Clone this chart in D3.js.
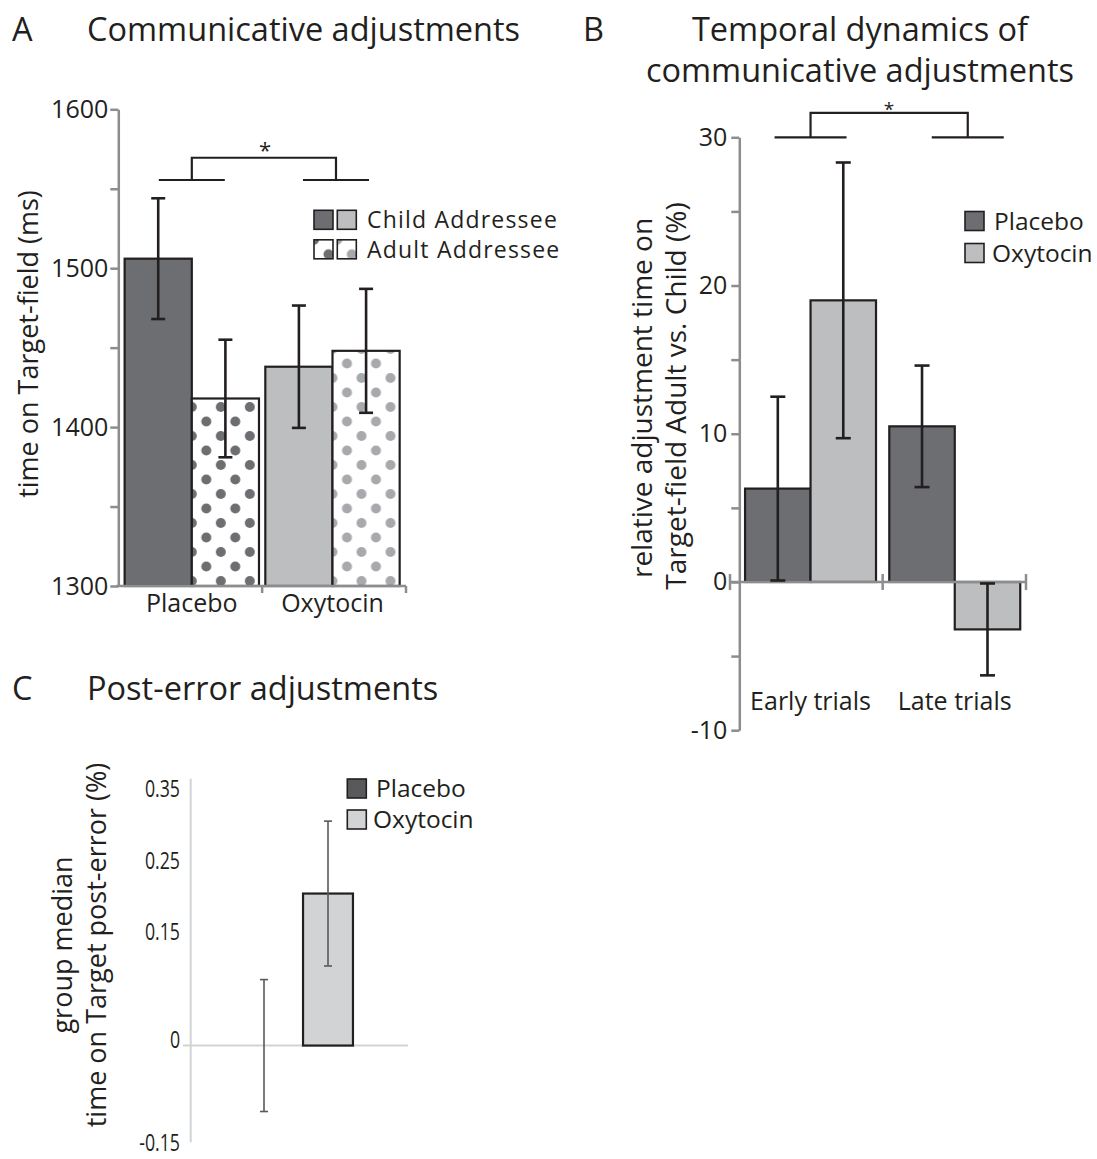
<!DOCTYPE html>
<html>
<head>
<meta charset="utf-8">
<script src="https://cdn.jsdelivr.net/npm/d3@7"></script>
<style>
body { margin: 0; background: #fff; }
svg text { font-family: "Open Sans", sans-serif; fill: #231f20; }
</style>
</head>
<body>
<svg width="1097" height="1159"></svg>
<script>
// ---- data ----
// A: time on target-field (ms), by group and addressee
var groupsA = ['Placebo', 'Oxytocin'];
var addressees = ['Child', 'Adult'];
var meanPlaceboA = [1506, 1418];   // child, adult
var meanOxytocinA = [1438, 1448];
var semPlaceboA = [38, 37];
var semOxytocinA = [38.5, 39];
var ticksA = [1300, 1400, 1500, 1600];

// B: relative adjustment time (%), by trial phase and group
var phasesB = ['Early trials', 'Late trials'];
var drugs = ['Placebo', 'Oxytocin'];
var meanEarlyB = [6.3, 19.0];     // placebo, oxytocin
var meanLateB = [10.5, -3.2];
var semEarlyB = [6.2, 9.3];
var semLateB = [4.1, 3.1];
var ticksB = [-10, 0, 10, 20, 30];

// C: group median post-error time (%)
var meanC = [0.0, 0.212];         // placebo, oxytocin
var semC = [0.092, 0.101];
var ticksC = [-0.15, 0, 0.15, 0.25, 0.35];
var tickLabelsC = ['-0.15', '0', '0.15', '0.25', '0.35'];

var dark = '#6d6e71', light = '#bcbec0', dotLight = '#a7a9ac';
var axisGrey = '#8d8d8f', ink = '#231f20';

var svg = d3.select('svg');
var defs = svg.append('defs');

function dotPattern(id, color, ox, oy)
{
  var p = defs.append('pattern').attr('id', id)
    .attr('patternUnits', 'userSpaceOnUse')
    .attr('width', 29).attr('height', 29)
    .attr('patternTransform', 'translate(' + ox + ',' + oy + ')');
  p.append('rect').attr('width', 29).attr('height', 29).attr('fill', '#fff');
  [[0, 0], [29, 0], [0, 29], [29, 29], [14.5, 14.5]].forEach(function(c) {
    p.append('circle').attr('cx', c[0]).attr('cy', c[1]).attr('r', 5).attr('fill', color);
  });
}

function styleAxis(g, col, w)
{
  g.select('.domain').attr('stroke', col).attr('stroke-width', w);
  g.selectAll('.tick line').attr('stroke', col).attr('stroke-width', w);
  g.selectAll('.tick text').attr('fill', ink);
}

function errBar(g, x, y1, y2, cap, col, w)
{
  g.append('line').attr('x1', x).attr('x2', x).attr('y1', y1).attr('y2', y2)
    .attr('stroke', col).attr('stroke-width', w);
  [y1, y2].forEach(function(y) {
    g.append('line').attr('x1', x - cap / 2).attr('x2', x + cap / 2).attr('y1', y).attr('y2', y)
      .attr('stroke', col).attr('stroke-width', w);
  });
}

function bracket(g, xa, xb, half, yLow, yHigh)
{
  [xa, xb].forEach(function(x) {
    g.append('line').attr('x1', x - half).attr('x2', x + half).attr('y1', yLow).attr('y2', yLow)
      .attr('stroke', ink).attr('stroke-width', 2.2);
  });
  g.append('path').attr('d', 'M' + xa + ',' + yLow + 'V' + yHigh + 'H' + xb + 'V' + yLow)
    .attr('fill', 'none').attr('stroke', ink).attr('stroke-width', 2.2);
}

// titles
function title(x, y, t, anchor)
{
  svg.append('text').attr('x', x).attr('y', y).attr('text-anchor', anchor || 'start')
    .style('font-size', '32.5px').text(t);
}
title(12, 41, 'A');
title(87, 41, 'Communicative adjustments');
title(583, 41, 'B');
title(860, 41, 'Temporal dynamics of', 'middle');
title(860, 82, 'communicative adjustments', 'middle');
title(12, 700, 'C');
title(87, 700, 'Post-error adjustments');

// ================= panel A =================
var gA = svg.append('g');
var yA = d3.scaleLinear().domain([1300, 1600]).range([586, 109.3]);
var x0A = d3.scaleBand().domain(groupsA).range([118.3, 406]).paddingInner(0.045).paddingOuter(0.045);
var x1A = d3.scaleBand().domain(addressees).range([0, x0A.bandwidth()]);
var dataA = [];
groupsA.forEach(function(g, i) {
  var m = i == 0 ? meanPlaceboA : meanOxytocinA;
  var s = i == 0 ? semPlaceboA : semOxytocinA;
  addressees.forEach(function(a, j) {
    dataA.push({group: g, who: a, mean: m[j], sem: s[j]});
  });
});

// dot patterns for the adult bars, aligned to each bar
dataA.forEach(function(d, i) {
  if (d.who == 'Adult')
    dotPattern('dotsA' + i, d.group == 'Placebo' ? dark : dotLight,
               x0A(d.group) + x1A(d.who), yA(1300) - 5);
});

gA.selectAll('rect.bar').data(dataA).enter().append('rect')
  .attr('class', 'bar')
  .attr('x', function(d) { return x0A(d.group) + x1A(d.who); })
  .attr('y', function(d) { return yA(d.mean); })
  .attr('width', x1A.bandwidth())
  .attr('height', function(d) { return yA(1300) - yA(d.mean); })
  .attr('fill', function(d, i) {
    if (d.who == 'Adult') return 'url(#dotsA' + i + ')';
    return d.group == 'Placebo' ? dark : light;
  })
  .attr('stroke', ink).attr('stroke-width', 2.2);

dataA.forEach(function(d) {
  var cx = x0A(d.group) + x1A(d.who) + x1A.bandwidth() / 2;
  errBar(gA, cx, yA(d.mean + d.sem), yA(d.mean - d.sem), 14, ink, 2.6);
});

var axA = gA.append('g').attr('transform', 'translate(118.3,0)')
  .call(d3.axisLeft(yA).tickValues(d3.range(1300, 1601, 50)).tickSize(8).tickSizeOuter(0).tickPadding(2)
    .tickFormat(function(d) { return ticksA.indexOf(d) >= 0 ? d : ''; }));
axA.selectAll('text').style('font-size', '25px').style('font-family', '"Open Sans", sans-serif');
styleAxis(axA, axisGrey, 2.5);

// bottom axis of A
var gapA = x0A.step() * x0A.paddingInner() / 2;
gA.append('line').attr('x1', 116.5).attr('x2', x0A.range()[1]).attr('y1', yA(1300)).attr('y2', yA(1300))
  .attr('stroke', axisGrey).attr('stroke-width', 2.5);
[x0A('Oxytocin') - gapA, x0A.range()[1]].forEach(function(x) {
  gA.append('line').attr('x1', x).attr('x2', x).attr('y1', yA(1300)).attr('y2', yA(1300) + 7)
    .attr('stroke', axisGrey).attr('stroke-width', 2.5);
});
groupsA.forEach(function(g) {
  gA.append('text').attr('x', x0A(g) + x0A.bandwidth() / 2).attr('y', yA(1300) + 26)
    .attr('text-anchor', 'middle').style('font-size', '25px').text(g);
});

gA.append('text').attr('transform', 'translate(38,344) rotate(-90)')
  .attr('text-anchor', 'middle').style('font-size', '27px').text('time on Target-field (ms)');

bracket(gA, x0A('Placebo') + x0A.bandwidth() / 2, x0A('Oxytocin') + x0A.bandwidth() / 2 + 3.5,
        33, yA(1555.5), yA(1569.5));
gA.append('text').attr('x', 265).attr('y', 158).attr('text-anchor', 'middle')
  .style('font-size', '22px').text('*');

// legend A
var legA = gA.append('g');
[['Child Addressee', 210.3], ['Adult Addressee', 239.8]].forEach(function(r, k) {
  [dark, light].forEach(function(c, m) {
    var x = 314 + m * 23.3;
    var fill = c;
    if (k == 1) {
      dotPattern('legA' + m, m == 0 ? dark : dotLight, x, r[1]);
      fill = 'url(#legA' + m + ')';
    }
    legA.append('rect').attr('x', x).attr('y', r[1]).attr('width', 19).attr('height', 19)
      .attr('fill', fill).attr('stroke', ink).attr('stroke-width', 1.6);
  });
  legA.append('text').attr('x', 367).attr('y', r[1] + 18).style('font-size', '23px')
    .style('letter-spacing', '1.2px').text(r[0]);
});

// ================= panel B =================
var gB = svg.append('g');
var yB = d3.scaleLinear().domain([-10, 30]).range([730.2, 137.3]);
var x0B = d3.scaleBand().domain(phasesB).range([739.3, 1026]).paddingInner(0.092).paddingOuter(0.04);
var x1B = d3.scaleBand().domain(drugs).range([0, x0B.bandwidth()]);
var dataB = [];
phasesB.forEach(function(p, i) {
  var m = i == 0 ? meanEarlyB : meanLateB;
  var s = i == 0 ? semEarlyB : semLateB;
  drugs.forEach(function(dr, j) {
    dataB.push({phase: p, drug: dr, mean: m[j], sem: s[j]});
  });
});

gB.selectAll('rect.bar').data(dataB).enter().append('rect')
  .attr('class', 'bar')
  .attr('x', function(d) { return x0B(d.phase) + x1B(d.drug); })
  .attr('y', function(d) { return yB(Math.max(0, d.mean)); })
  .attr('width', x1B.bandwidth())
  .attr('height', function(d) { return Math.abs(yB(d.mean) - yB(0)); })
  .attr('fill', function(d) { return d.drug == 'Placebo' ? dark : light; })
  .attr('stroke', ink).attr('stroke-width', 2.2);

var axB = gB.append('g').attr('transform', 'translate(739.3,0)')
  .call(d3.axisLeft(yB).tickValues(d3.range(-10, 31, 5)).tickSize(8).tickSizeOuter(0).tickPadding(4)
    .tickFormat(function(d) { return ticksB.indexOf(d) >= 0 ? String(d) : ''; }));
axB.selectAll('text').style('font-size', '25px').style('font-family', '"Open Sans", sans-serif');
styleAxis(axB, axisGrey, 2.5);

// zero line of B with crossing ticks
var gapB = x0B.step() * x0B.paddingInner() / 2;
gB.append('line').attr('x1', 730).attr('x2', x0B.range()[1]).attr('y1', yB(0)).attr('y2', yB(0))
  .attr('stroke', axisGrey).attr('stroke-width', 2.5);
[730, x0B('Late trials') - gapB, x0B.range()[1]].forEach(function(x) {
  gB.append('line').attr('x1', x).attr('x2', x).attr('y1', yB(0) - 8).attr('y2', yB(0) + 8)
    .attr('stroke', axisGrey).attr('stroke-width', 2.5);
});

dataB.forEach(function(d) {
  var cx = x0B(d.phase) + x1B(d.drug) + x1B.bandwidth() / 2;
  errBar(gB, cx, yB(d.mean + d.sem), yB(d.mean - d.sem), 15, ink, 2.6);
});

phasesB.forEach(function(p) {
  gB.append('text').attr('x', x0B(p) + x0B.bandwidth() / 2).attr('y', 710)
    .attr('text-anchor', 'middle').style('font-size', '25px').text(p);
});

gB.append('text').attr('transform', 'translate(652,398) rotate(-90)')
  .attr('text-anchor', 'middle').style('font-size', '28px').text('relative adjustment time on');
gB.append('text').attr('transform', 'translate(686,396) rotate(-90)')
  .attr('text-anchor', 'middle').style('font-size', '28px').text('Target-field Adult vs. Child (%)');

bracket(gB, x0B('Early trials') + x0B.bandwidth() / 2, x0B('Late trials') + x0B.bandwidth() / 2 + 13,
        36, yB(30), yB(31.65));
gB.append('text').attr('x', 889).attr('y', 116).attr('text-anchor', 'middle')
  .style('font-size', '19px').text('*');

// legend B
drugs.forEach(function(dr, k) {
  var y = 211.5 + k * 32;
  gB.append('rect').attr('x', 965).attr('y', y).attr('width', 19).attr('height', 19)
    .attr('fill', k == 0 ? dark : light).attr('stroke', ink).attr('stroke-width', 1.6);
  gB.append('text').attr('x', k == 0 ? 994 : 992).attr('y', y + 18).style('font-size', '24.5px').text(dr);
});

// ================= panel C =================
var gC = svg.append('g');
var yC = d3.scaleLinear().domain([-0.15, 0.35]).range([1153.1, 794.6]);
var xC = d3.scaleBand().domain(drugs).range([232, 360]).paddingInner(0.22).paddingOuter(0.11);
var lineC = '#d1d3d4';

gC.append('line').attr('x1', 190.7).attr('x2', 190.7).attr('y1', yC(0.372)).attr('y2', yC(-0.135))
  .attr('stroke', lineC).attr('stroke-width', 2);
gC.append('line').attr('x1', 183).attr('x2', 408).attr('y1', yC(0)).attr('y2', yC(0))
  .attr('stroke', lineC).attr('stroke-width', 2);

var axC = gC.append('g').attr('transform', 'translate(180,0)')
  .call(d3.axisLeft(yC).tickValues(ticksC).tickSize(0).tickPadding(0)
    .tickFormat(function(d, i) { return tickLabelsC[i]; }));
axC.select('.domain').remove();
axC.selectAll('text').attr('x', 0)
  .attr('y', function(d) { return d < 0 ? -10 : -5.5; })
  .attr('transform', 'scale(0.77,1)').attr('fill', '#3a3a3c')
  .style('font-size', '23px').style('font-family', '"Open Sans", sans-serif');

gC.selectAll('rect.bar').data(meanC).enter().append('rect')
  .attr('class', 'bar')
  .attr('x', function(d, i) { return xC(drugs[i]); })
  .attr('y', function(d) { return yC(Math.max(0, d)); })
  .attr('width', xC.bandwidth())
  .attr('height', function(d) { return Math.abs(yC(d) - yC(0)); })
  .attr('fill', function(d, i) { return i == 0 ? '#58595b' : lineC; })
  .attr('stroke', ink).attr('stroke-width', 2.2);

meanC.forEach(function(m, i) {
  errBar(gC, xC(drugs[i]) + xC.bandwidth() / 2, yC(m + semC[i]), yC(m - semC[i]), 8, '#58595b', 1.6);
});

gC.append('text').attr('transform', 'translate(72,945) rotate(-90)')
  .attr('text-anchor', 'middle').style('font-size', '27px').text('group median');
gC.append('text').attr('transform', 'translate(106,945) rotate(-90)')
  .attr('text-anchor', 'middle').style('font-size', '27px').text('time on Target post-error (%)');

// legend C
drugs.forEach(function(dr, k) {
  var y = 779 + k * 31;
  gC.append('rect').attr('x', 347.3).attr('y', y).attr('width', 19).attr('height', 19)
    .attr('fill', k == 0 ? '#58595b' : lineC).attr('stroke', ink).attr('stroke-width', 1.6);
  gC.append('text').attr('x', k == 0 ? 376 : 373).attr('y', y + 18).style('font-size', '24.5px').text(dr);
});
</script>
</body>
</html>
